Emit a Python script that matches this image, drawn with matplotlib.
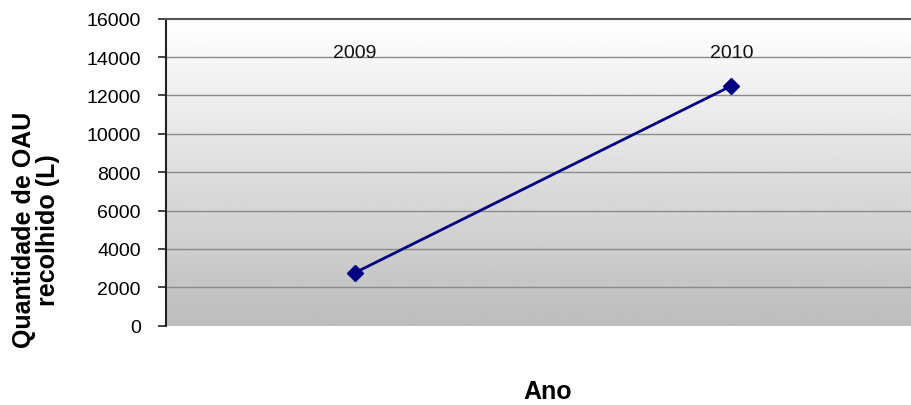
import numpy as np
import matplotlib
matplotlib.use("Agg")
import matplotlib.pyplot as plt

years = ["2009", "2010"]
volumes = [2750, 12500]
yticks = [0, 2000, 4000, 6000, 8000, 10000, 12000, 14000, 16000]

plt.rcParams["font.family"] = ["Liberation Sans", "DejaVu Sans"]

fig = plt.figure(figsize=(9.12, 4.06), dpi=100)
# plot area runs slightly past the right edge, like the original
ax = fig.add_axes([166 / 912, 1 - 326.7 / 406, 754 / 912, 307 / 406])

x = np.arange(len(years)) + 1
ax.set_xlim(0.5, len(years) + 0.5)
ax.set_ylim(0, 16000)

# gradient background: white at top to grey at bottom
grad = np.linspace(1.0, 0.74, 256).reshape(-1, 1)
ax.imshow(grad, cmap="gray", vmin=0, vmax=1, aspect="auto",
          extent=[0, 1, 0, 1], transform=ax.transAxes, zorder=0)

for t in yticks[1:-1]:
    ax.axhline(t, color="#8a8a8a", lw=1, zorder=1)

ax.plot(x, volumes, color="#000080", lw=2, marker="D", markersize=8,
        zorder=3, clip_on=False)

for xi, lab in zip(x, years):
    ax.text(xi, 14250, lab, ha="center", va="center", fontsize=14,
            color="#111111", zorder=2)

ax.set_yticks(yticks)
ax.set_yticklabels([str(t) for t in yticks], fontsize=14)
ax.set_xticks([])
ax.tick_params(axis="y", direction="out", length=6, width=1.2,
               color="#222222", pad=12)

ax.spines["left"].set_color("#222222")
ax.spines["left"].set_linewidth(1.5)
ax.spines["top"].set_color("#555555")
ax.spines["top"].set_linewidth(1.5)
ax.spines["right"].set_visible(False)
ax.spines["bottom"].set_visible(False)

fig.text(36 / 912, 1 - 230 / 406, "Quantidade de OAU\nrecolhido (L)",
         rotation=90, ha="center", va="center", fontsize=18,
         fontweight="bold", linespacing=1.0)
fig.text(548 / 912, 1 - 392 / 406, "Ano", ha="center", va="center",
         fontsize=18, fontweight="bold")

fig.savefig("out.png", dpi=100)
